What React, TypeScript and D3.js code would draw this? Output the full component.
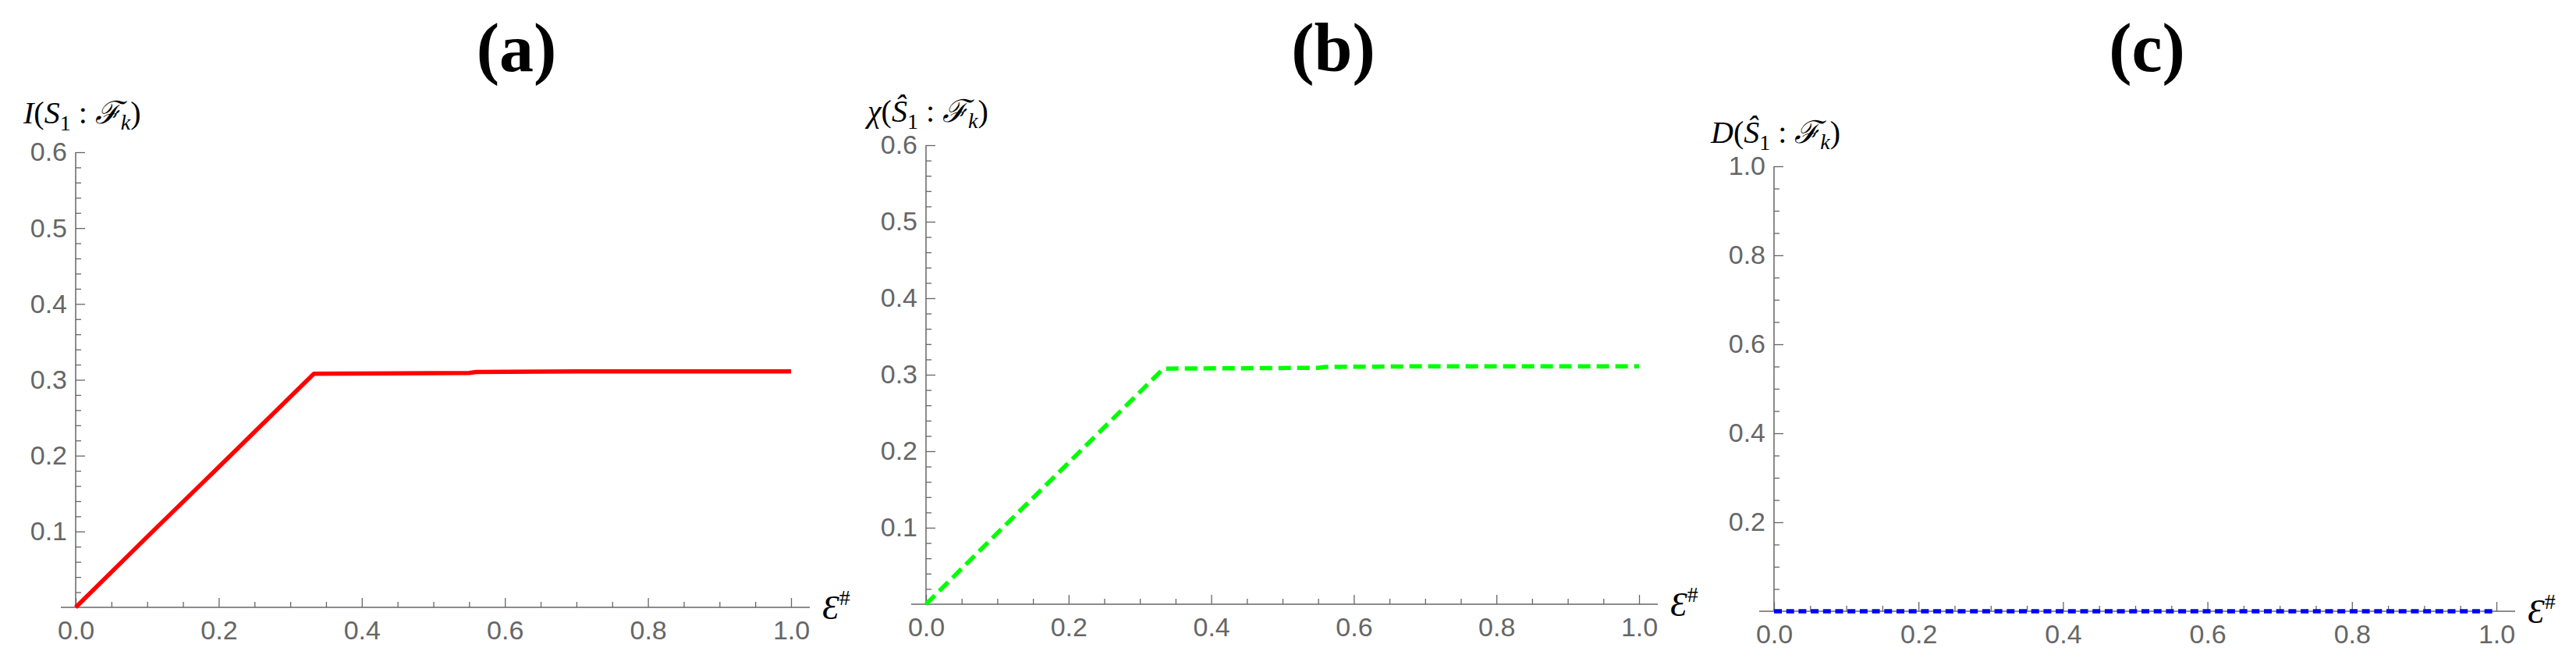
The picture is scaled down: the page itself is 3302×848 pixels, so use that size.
import { useEffect, useRef } from "react";
import * as d3 from "d3";

// values
const epsilon = [0, 0.1, 0.2, 0.333, 0.45, 0.55, 0.56, 0.7, 0.85, 1.0];
const mutualInfo = [0, 0.093, 0.185, 0.308, 0.3085, 0.309, 0.3102, 0.311, 0.311, 0.311];
const holevoInfo = [0, 0.093, 0.185, 0.308, 0.3085, 0.309, 0.3102, 0.311, 0.311, 0.311];
const discord = [0, 0, 0, 0, 0, 0, 0, 0, 0, 0];

const xTicks = [0, 0.2, 0.4, 0.6, 0.8, 1.0];
const yTicksSmall = [0.1, 0.2, 0.3, 0.4, 0.5, 0.6];
const yTicksUnit = [0.2, 0.4, 0.6, 0.8, 1.0];
const titles = ["(a)", "(b)", "(c)"];

type Panel = {
  title: string;
  titleX: number;
  values: number[];
  yMax: number;
  yTicks: number[];
  yMinorStep: number;
  color: string;
  dash: string | null;
  left: number;
  right: number;
  bottom: number;
  top: number;
  labelX: number;
  labelY: number;
  labelHead: string;
  labelSym: string;
};

const panels: Panel[] = [
  {
    title: titles[0], titleX: 662, values: mutualInfo, yMax: 0.6, yTicks: yTicksSmall, yMinorStep: 0.02,
    color: "#ff0000", dash: null, left: 97, right: 1014, bottom: 778, top: 195,
    labelX: 30, labelY: 158, labelHead: "I", labelSym: "S",
  },
  {
    title: titles[1], titleX: 1709, values: holevoInfo, yMax: 0.6, yTicks: yTicksSmall, yMinorStep: 0.02,
    color: "#00ff00", dash: "16,8", left: 1187, right: 2101, bottom: 774, top: 186,
    labelX: 1112, labelY: 156, labelHead: "χ", labelSym: "Ŝ",
  },
  {
    title: titles[2], titleX: 2752, values: discord, yMax: 1.0, yTicks: yTicksUnit, yMinorStep: 0.05,
    color: "#0000ff", dash: "10,5.7", left: 2274, right: 3200, bottom: 783, top: 213,
    labelX: 2193, labelY: 183, labelHead: "D", labelSym: "Ŝ",
  },
];

const AXIS = "#666666";

function drawPanel(svg: d3.Selection<SVGSVGElement, unknown, null, undefined>, p: Panel) {
  const g = svg.append("g");
  const x = d3.scaleLinear().domain([0, 1]).range([p.left, p.right]);
  const y = d3.scaleLinear().domain([0, p.yMax]).range([p.bottom, p.top]);

  // title
  g.append("text")
    .attr("x", p.titleX)
    .attr("y", 91)
    .attr("text-anchor", "middle")
    .attr("font-family", "Liberation Serif")
    .attr("font-weight", "bold")
    .attr("font-size", 88)
    .text(p.title);

  // axis lines (Mathematica style, x axis padded on both sides)
  g.append("line")
    .attr("x1", p.left - 19).attr("x2", p.right + 24)
    .attr("y1", p.bottom).attr("y2", p.bottom)
    .attr("stroke", AXIS).attr("stroke-width", 1.5);
  g.append("line")
    .attr("x1", p.left).attr("x2", p.left)
    .attr("y1", p.bottom).attr("y2", p.top)
    .attr("stroke", AXIS).attr("stroke-width", 1.5);

  const xMinor = d3.range(0, 1.0001, 0.05).filter(v => Math.abs(v * 5 - Math.round(v * 5)) > 1e-6);
  const yMinor = d3.range(0, p.yMax + 1e-4, p.yMinorStep)
    .filter(v => !p.yTicks.some(t => Math.abs(t - v) < 1e-6) && v > 1e-6);

  const xAxis = d3.axisBottom(x).tickValues(xTicks).tickSizeInner(-12).tickSizeOuter(0)
    .tickPadding(17).tickFormat(d3.format(".1f") as any);
  const xMinorAxis = d3.axisBottom(x).tickValues(xMinor).tickSizeInner(-7).tickSizeOuter(0)
    .tickFormat(() => "");
  const yAxis = d3.axisLeft(y).tickValues(p.yTicks).tickSizeInner(-12).tickSizeOuter(0)
    .tickPadding(11).tickFormat(d3.format(".1f") as any);
  const yMinorAxis = d3.axisLeft(y).tickValues(yMinor).tickSizeInner(-7).tickSizeOuter(0)
    .tickFormat(() => "");

  const styleAxis = (sel: d3.Selection<SVGGElement, unknown, null, undefined>) => {
    sel.select(".domain").remove();
    sel.selectAll("line").attr("stroke", AXIS).attr("stroke-width", 1.3);
    sel.selectAll("text")
      .attr("fill", AXIS)
      .attr("font-family", "Liberation Sans")
      .attr("font-size", 34);
  };

  g.append("g").attr("transform", `translate(0,${p.bottom})`).call(xMinorAxis).call(styleAxis);
  g.append("g").attr("transform", `translate(0,${p.bottom})`).call(xAxis).call(styleAxis);
  g.append("g").attr("transform", `translate(${p.left},0)`).call(yMinorAxis).call(styleAxis);
  g.append("g").attr("transform", `translate(${p.left},0)`).call(yAxis).call(styleAxis);

  // curve
  const line = d3.line<number>()
    .x((_, i) => x(epsilon[i]))
    .y(d => y(d));
  const path = g.append("path")
    .datum(p.values)
    .attr("d", line)
    .attr("fill", "none")
    .attr("stroke", p.color)
    .attr("stroke-width", 5.5)
    .attr("stroke-linejoin", "round");
  if (p.dash) path.attr("stroke-dasharray", p.dash);

  // y label
  const lab = g.append("text")
    .attr("x", p.labelX)
    .attr("y", p.labelY)
    .attr("fill", "#000")
    .attr("font-family", "Liberation Serif")
    .attr("font-size", 40);
  lab.append("tspan").attr("font-style", "italic").text(p.labelHead);
  lab.append("tspan").text("(");
  lab.append("tspan").attr("font-style", "italic").text(p.labelSym);
  lab.append("tspan").attr("font-size", 28).attr("dy", 9).text("1");
  lab.append("tspan").attr("dy", -9).text(" : ");
  lab.append("tspan").attr("font-style", "italic").text("ℱ");
  lab.append("tspan").attr("font-size", 28).attr("font-style", "italic").attr("dy", 8).text("k");
  lab.append("tspan").attr("dy", -8).text(")");

  // x label
  const xl = g.append("text")
    .attr("x", p.right + 40)
    .attr("y", p.bottom + 15)
    .attr("fill", "#000")
    .attr("font-family", "Liberation Serif")
    .attr("font-size", 44);
  xl.append("tspan").attr("font-style", "italic").text("Ɛ");
  xl.append("tspan").attr("font-size", 28).attr("dy", -18).text("#");
}

export default function App() {
  const ref = useRef<SVGSVGElement | null>(null);

  useEffect(() => {
    if (!ref.current) return;
    const svg = d3.select(ref.current);
    svg.selectAll("*").remove();
    panels.forEach(p => drawPanel(svg, p));
  }, []);

  return (
    <svg
      ref={ref}
      width={3302}
      height={848}
      style={{ position: "absolute", left: 0, top: 0, background: "#ffffff" }}
    />
  );
}
